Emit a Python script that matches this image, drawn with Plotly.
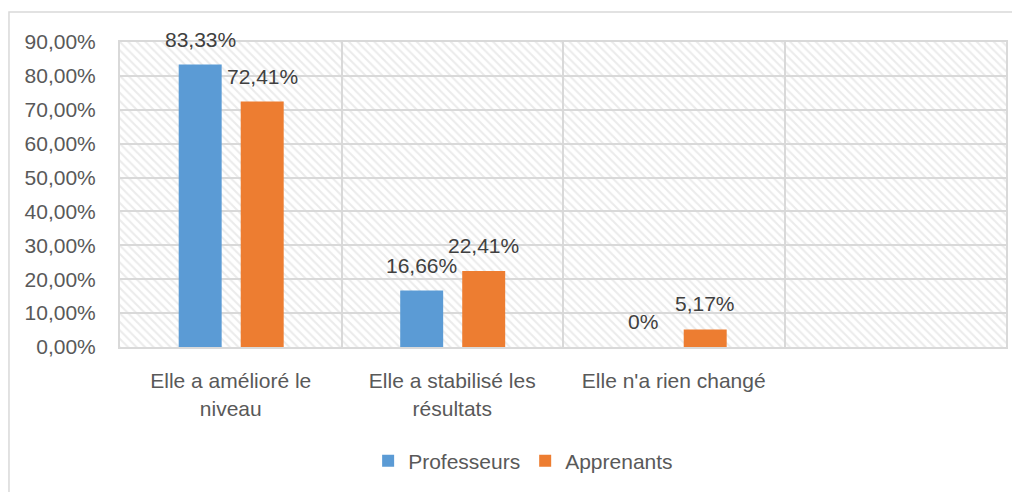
import plotly.graph_objects as go

# ---- data ----
categories = ["Elle a amélioré le<br>niveau", "Elle a stabilisé les<br>résultats", "Elle n'a rien changé", ""]
professeurs = [0.8333, 0.1666, 0.0]
apprenants = [0.7241, 0.2241, 0.0517]
y_ticks = [0, 0.1, 0.2, 0.3, 0.4, 0.5, 0.6, 0.7, 0.8, 0.9]

series = [
    ("Professeurs", professeurs, "#5B9BD5", -0.235),
    ("Apprenants", apprenants, "#ED7D31", 0.045),
]
bar_w = 0.194
FONT = "Liberation Sans"
GRID = "#d9d9d9"

def fmt(v):
    if v == 0:
        return "0%"
    return f"{v*100:.2f}".replace(".", ",") + "%"

x_range = [-0.5, len(categories) - 0.5]
y_range = [y_ticks[0], y_ticks[-1]]

fig = go.Figure()

# hatched plot-area background (drawn first, below the data bars)
fig.add_trace(go.Bar(
    x=[(x_range[0] + x_range[1]) / 2], y=[y_range[1]], base=[y_range[0]],
    width=[x_range[1] - x_range[0]],
    marker=dict(color="rgba(0,0,0,0)", line_width=0,
                pattern=dict(shape="\\", fgcolor="#d8d8d8", bgcolor="rgba(0,0,0,0)",
                             size=6, solidity=0.35, fillmode="overlay")),
    hoverinfo="skip", showlegend=False,
))

annotations = []
for name, vals, color, off in series:
    xs = list(range(len(vals)))
    fig.add_trace(go.Bar(
        x=xs, y=vals, name=name, marker_color=color, marker_line_width=0,
        offset=off, width=bar_w,
    ))
    for i, v in enumerate(vals):
        annotations.append(dict(
            x=i + off + bar_w / 2, y=v, xref="x", yref="y",
            text=fmt(v), showarrow=False, yanchor="bottom", yshift=12,
            font=dict(family=FONT, size=21, color="#404040"),
        ))

fig.update_layout(
    width=1012, height=484,
    margin=dict(l=112, r=14, t=34, b=144),
    paper_bgcolor="white", plot_bgcolor="white",
    barmode="overlay",
    separators=",.",
    font=dict(family=FONT, size=21, color="#595959"),
    showlegend=True,
    legend=dict(orientation="h", x=0.455, xanchor="center", y=-0.37, yanchor="middle",
                font=dict(family=FONT, size=21, color="#595959"),
                itemwidth=30, traceorder="normal"),
    annotations=annotations,
    shapes=[dict(type="rect", xref="paper", yref="paper",
                 x0=-0.1253, x1=1.05, y0=-0.6, y1=1.098,
                 line=dict(color="#d9d9d9", width=1.5), fillcolor="rgba(0,0,0,0)", layer="below")],
)

fig.update_xaxes(
    range=x_range, tickmode="array", tickvals=list(range(len(categories))), ticktext=categories,
    showgrid=False, zeroline=False,
    showline=True, linecolor=GRID, linewidth=2, mirror=True,
    ticks="", ticklabelstandoff=14,
    minor=dict(tickmode="array", tickvals=[k + 0.5 for k in range(len(categories) - 1)],
               showgrid=True, gridcolor=GRID, gridwidth=2, ticks=""),
    tickfont=dict(family=FONT, size=21, color="#595959"),
)
fig.update_yaxes(
    range=y_range, tickmode="array", tickvals=y_ticks, tickformat=".2%",
    showgrid=True, gridcolor=GRID, gridwidth=2, zeroline=False,
    showline=True, linecolor=GRID, linewidth=2, mirror=True,
    ticks="", ticklabelstandoff=18,
    tickfont=dict(family=FONT, size=21, color="#595959"),
)

fig.write_html("out.html")
